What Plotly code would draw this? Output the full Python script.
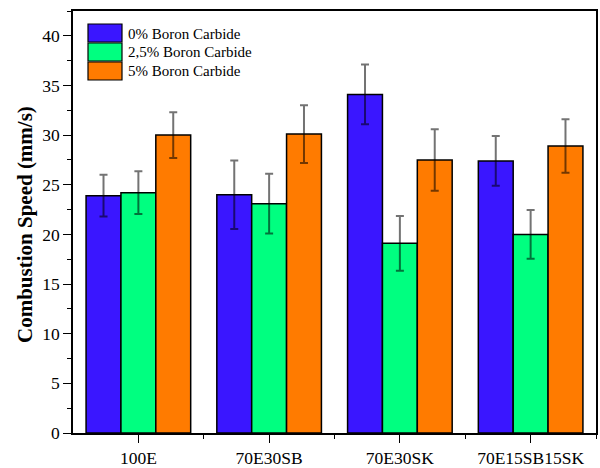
import plotly.graph_objects as go

categories = ["100E", "70E30SB", "70E30SK", "70E15SB15SK"]
series_names = ["0% Boron Carbide", "2,5% Boron Carbide", "5% Boron Carbide"]
speed_0 = [23.9, 24.0, 34.1, 27.4]
speed_25 = [24.2, 23.1, 19.1, 20.0]
speed_5 = [30.0, 30.1, 27.5, 28.9]
err_0 = [2.1, 3.45, 3.0, 2.5]
err_25 = [2.15, 3.0, 2.75, 2.45]
err_5 = [2.3, 2.9, 3.1, 2.7]
colors = ["#3a16ff", "#00ff80", "#ff7b00"]

values = [speed_0, speed_25, speed_5]
errors = [err_0, err_25, err_5]
xpos = list(range(len(categories)))

FONT = "Liberation Serif, Times New Roman, serif"

fig = go.Figure()
for name, vals, errs, col in zip(series_names, values, errors, colors):
    fig.add_trace(go.Bar(
        x=xpos, y=vals, name=name,
        marker=dict(color=col, line=dict(color="black", width=1.5)),
        error_y=dict(type="data", array=errs, visible=True,
                     color="rgba(0,0,0,0.55)", thickness=2, width=4),
        showlegend=False,
    ))

# manual legend (large swatches like the original)
L, R, T, B = 73, 596, 11, 433
W, H = R - L, B - T
def px_x(p):
    return (p - L) / W
def px_y(p):
    return (B - p) / H

row_tops = [24, 43, 62]
for name, col, top in zip(series_names, colors, row_tops):
    fig.add_shape(type="rect", xref="paper", yref="paper",
                  x0=px_x(88), x1=px_x(122), y0=px_y(top + 18), y1=px_y(top),
                  fillcolor=col, line=dict(color="black", width=1.2), layer="above")
    fig.add_annotation(xref="paper", yref="paper", x=px_x(126), y=px_y(top + 9.5),
                       text=name, showarrow=False, xanchor="left", yanchor="middle",
                       font=dict(family=FONT, size=15, color="black"))

# y-axis title
fig.add_annotation(xref="paper", yref="paper", x=px_x(25), y=px_y(225),
                   text="<b>Combustion Speed (mm/s)</b>", textangle=-90,
                   showarrow=False, xanchor="center", yanchor="middle",
                   font=dict(family=FONT, size=21, color="black"))

fig.update_layout(
    width=600, height=468,
    margin=dict(l=L, r=600 - R, t=T, b=468 - B, autoexpand=False),
    paper_bgcolor="white", plot_bgcolor="white",
    barmode="group", bargap=0.2, bargroupgap=0,
    font=dict(family=FONT, size=17.5, color="black"),
)
fig.update_xaxes(
    range=[-0.5, 3.5], tickmode="array", tickvals=xpos, ticktext=categories,
    showline=True, linecolor="black", linewidth=1.5, mirror=True,
    ticks="outside", ticklen=8, tickwidth=1.2, tickcolor="black",
    minor=dict(tickvals=[0.5, 1.5, 2.5, 3.5], ticks="outside", ticklen=4,
               tickwidth=1.2, tickcolor="black"),
    showgrid=False, zeroline=False, automargin=False,
    tickfont=dict(family=FONT, size=17.5),
)
fig.update_yaxes(
    range=[0, 42.5], tickmode="linear", tick0=0, dtick=5,
    showline=True, linecolor="black", linewidth=1.5, mirror=True,
    ticks="outside", ticklen=8, tickwidth=1.2, tickcolor="black",
    minor=dict(dtick=2.5, ticks="outside", ticklen=4, tickwidth=1.2,
               tickcolor="black", showgrid=False),
    showgrid=False, zeroline=False, automargin=False,
    tickfont=dict(family=FONT, size=17.5),
)

fig.write_html("out.html")
